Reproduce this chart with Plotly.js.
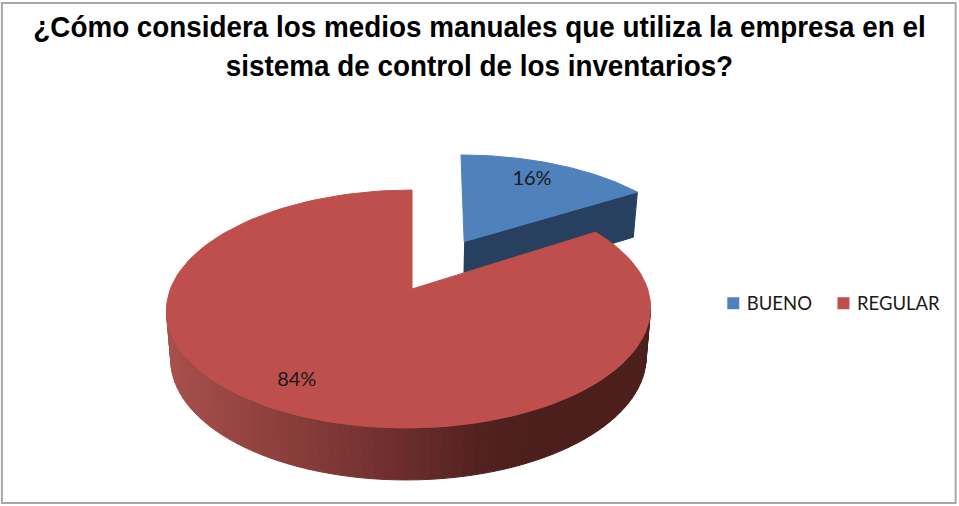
<!DOCTYPE html>
<html>
<head>
<meta charset="utf-8">
<script src="https://cdn.plot.ly/plotly-3.0.1.min.js"></script>
<style>html,body{margin:0;padding:0;background:#fff;overflow:hidden}#chart{width:959px;height:506px}</style>
</head>
<body>
<div id="chart"></div>
<script>
const chartTitle = '¿Cómo considera los medios manuales que utiliza la empresa en el<br>sistema de control de los inventarios?';
const categories = ['BUENO', 'REGULAR'];
const percentValues = [16, 84];
const topColors = ['#4f81bd', '#be4f4c'];
const blueWallColor = '#27405f';
const labelRadius = [0.76, 0.82];
const labelAngleShift = [-2, 2.5];

// perspective projection of the tilted disc onto the plot's axes
const cx = 412, cy = 289, bx = 238.6, ay = 115.6, k = 0.168, skew = 3;
const pullU = 0.255, pullV = -0.44, blueApexShift = 4.5;
function project(u, v, down, skewed) {
  const s = 1 / (1 - k * v);
  const shrink = down ? 0.982 : 1;
  const h = down ? 48.5 + 3.5 * v : 0;
  const off = skewed ? -skew * (1 + v) : 0;
  return [cx + off + bx * u * s * shrink, cy + ay * v * s + h];
}
function blueApex(down) {
  const p = project(pullU, pullV, down);
  return [p[0] - blueApexShift, p[1]];
}
function rim(deg, r) {
  const t = deg * Math.PI / 180;
  return [r * Math.sin(t), -r * Math.cos(t)];
}
function shape(points) {
  return {x: points.map(p => p[0]), y: points.map(p => p[1])};
}
const total = percentValues.reduce((a, b) => a + b, 0);
const blueEnd = 360 * percentValues[0] / total;

function sector(a0, a1, pu, pv, skewed, apex) {
  const pts = [apex];
  for (let i = 0; i <= 120; i++) {
    const [u, v] = rim(a0 + (a1 - a0) * i / 120, 1);
    pts.push(project(u + pu, v + pv, false, skewed));
  }
  pts.push(pts[0]);
  return shape(pts);
}
function fillTrace(geo, color) {
  return {x: geo.x, y: geo.y, mode: 'lines', fill: 'toself', fillcolor: color,
          line: {color: color, width: 1}, hoverinfo: 'skip', showlegend: false};
}

const shadeStops = [[166, [168, 80, 76]], [250, [147, 67, 64]], [383, [113, 48, 47]], [483, [82, 33, 31]], [530, [76, 30, 28]], [660, [76, 30, 28]]];
function wallColor(x) {
  for (let i = 1; i < shadeStops.length; i++) {
    if (x <= shadeStops[i][0]) {
      const [x0, c0] = shadeStops[i - 1], [x1, c1] = shadeStops[i];
      const f = Math.max(0, (x - x0) / (x1 - x0));
      return 'rgb(' + c0.map((c, j) => Math.round(c + (c1[j] - c) * f)).join(',') + ')';
    }
  }
  return 'rgb(76,30,28)';
}

const traces = [];
// exploded slice: radial wall, then top face
const bRim = rim(blueEnd, 1);
traces.push(fillTrace(shape([
  blueApex(false),
  project(bRim[0] + pullU, bRim[1] + pullV, false),
  project(bRim[0] + pullU, bRim[1] + pullV, true),
  blueApex(true)
]), blueWallColor));
traces.push(fillTrace(sector(0, blueEnd, pullU, pullV, false, blueApex(false)), topColors[0]));

// outer wall of the large slice
const wallStart = 99.7, wallEnd = 260.3, strips = 70;
for (let i = 0; i < strips; i++) {
  const a0 = wallStart + (wallEnd - wallStart) * i / strips;
  const a1 = wallStart + (wallEnd - wallStart) * (i + 1) / strips;
  const r0 = rim(a0, 1), r1 = rim(a1, 1);
  const pts = [project(r0[0], r0[1], false, true), project(r1[0], r1[1], false, true),
               project(r1[0], r1[1], true, true), project(r0[0], r0[1], true, true)];
  pts.push(pts[0]);
  const mx = (pts[0][0] + pts[1][0]) / 2;
  traces.push(fillTrace(shape(pts), wallColor(mx)));
}
traces.push(fillTrace(sector(blueEnd, 360, 0, 0, true, project(0, 0, false, false)), topColors[1]));

// percentage labels
const midAngles = [blueEnd / 2, blueEnd + (360 - blueEnd) / 2];
const labelPts = midAngles.map((a, i) => {
  const [u, v] = rim(a + labelAngleShift[i], labelRadius[i]);
  return i === 0 ? project(u + pullU, v + pullV, false) : project(u, v, false);
});
traces.push({
  x: labelPts.map(p => p[0]), y: labelPts.map(p => p[1]),
  text: percentValues.map(v => v + '%'), mode: 'text', textposition: 'middle center',
  textfont: {family: 'Lato, sans-serif', size: 20, color: '#1a1a1a'},
  hoverinfo: 'skip', showlegend: false
});

// legend keys
categories.forEach((name, i) => traces.push({
  x: [null], y: [null], name: name, mode: 'markers',
  marker: {symbol: 'square', size: 12, color: topColors[i]}, showlegend: true
}));

const layout = {
  width: 959, height: 506,
  margin: {l: 0, r: 0, t: 0, b: 0},
  paper_bgcolor: '#ffffff', plot_bgcolor: '#ffffff',
  font: {family: 'Lato, sans-serif'},
  title: {text: chartTitle, x: 0.5, xanchor: 'center', xref: 'paper',
          y: 0.927, yanchor: 'top', yref: 'container',
          font: {family: '"Liberation Sans", Arial, sans-serif', size: 29, color: '#000000', weight: 700}},
  xaxis: {range: [0, 959], visible: false, fixedrange: true},
  yaxis: {range: [506, 0], visible: false, fixedrange: true},
  showlegend: true,
  legend: {orientation: 'h', x: 0.737, y: 0.4, xanchor: 'left', yanchor: 'middle',
           itemwidth: 30, font: {family: 'Lato, sans-serif', size: 18.5, color: '#1a1a1a'},
           bgcolor: 'rgba(0,0,0,0)', itemclick: false, itemdoubleclick: false},
  shapes: [{type: 'rect', xref: 'paper', yref: 'paper', x0: 0.002, x1: 0.9965, y0: 0.006, y1: 0.994,
            line: {color: '#a8a8a8', width: 2}, fillcolor: 'rgba(0,0,0,0)', layer: 'above'}]
};
Plotly.newPlot('chart', traces, layout, {displayModeBar: false, staticPlot: true}).then(() => {
  // the reference's title type is slightly condensed and taller
  const t = document.querySelector('.gtitle');
  if (t) t.setAttribute('transform', 'translate(479.5 40) scale(0.96 1.035) translate(-479.5 -40)');
  // the reference's legend keys sit close to their labels
  document.querySelectorAll('.legendsymbols').forEach(s => s.setAttribute('transform', 'translate(6.5 0)'));
});
</script>
</body>
</html>
